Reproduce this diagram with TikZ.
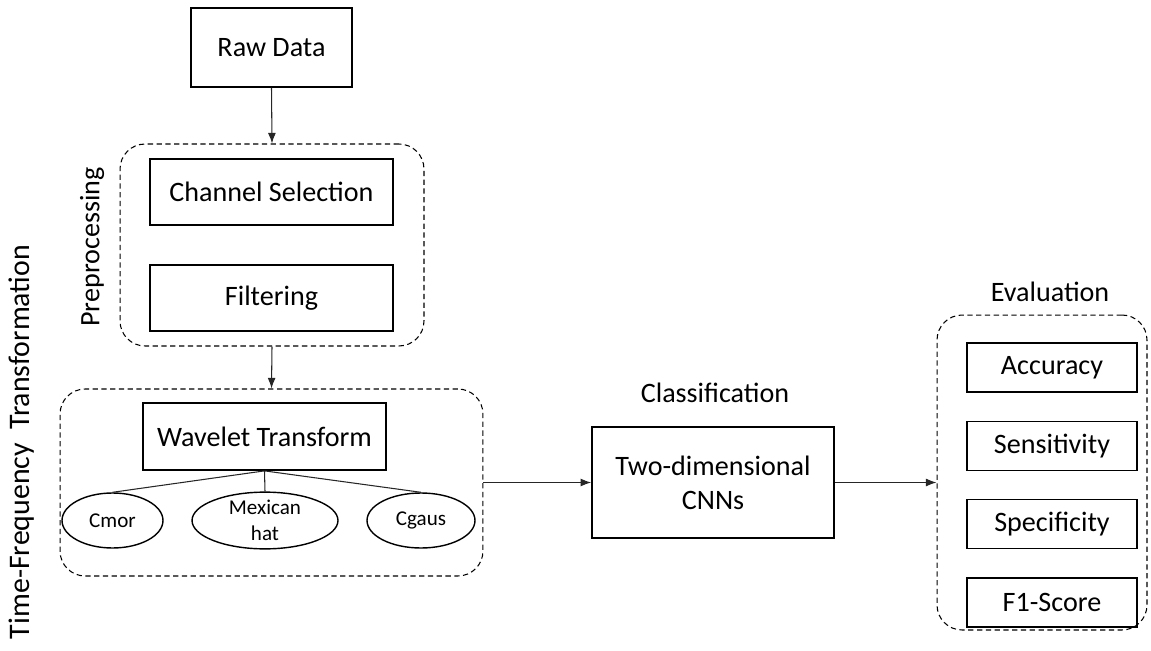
\documentclass[tikz,border=0pt]{standalone}
\usepackage{fontspec}
\setmainfont{Carlito}
\usetikzlibrary{arrows.meta,shapes.geometric}

\begin{document}
\begin{tikzpicture}[x=0.02cm, y=-0.02cm,
  every node/.style = {inner sep=0pt, align=center,
    font=\fontsize{16}{19.5}\selectfont},
  stepbox/.style = {draw, line width=1pt, minimum width=4.86cm, minimum height=1.32cm},
  metricbox/.style = {draw, line width=1pt, minimum width=3.4cm, minimum height=0.98cm},
  groupbox/.style = {draw, dashed, dash pattern=on 3pt off 2pt, line width=0.6pt,
    rounded corners=0.5cm},
  waveletnode/.style = {draw, ellipse, line width=0.8pt, minimum height=1.1cm,
    font=\fontsize{12}{14.5}\selectfont},
  arrow/.style = {-{Latex[length=6pt,width=4.5pt]}, line width=0.6pt, black!85}]
  \useasboundingbox (0,0) rectangle (1151,651);

  % input
  \node[draw, line width=1pt, minimum width=3.22cm, minimum height=1.58cm] (raw) at (271.5,47.5) {Raw Data};

  % preprocessing
  \node[groupbox, minimum width=6.08cm, minimum height=4.04cm] (pre) at (272,245) {};
  \node[stepbox] (chan) at (271.5,192) {Channel Selection};
  \node[stepbox] (filt) at (271.5,298) {Filtering};
  \node[rotate=90] (prelabel) at (92,247) {Preprocessing};

  % time-frequency transformation
  \node[groupbox, minimum width=8.46cm, minimum height=3.74cm] (tf) at (271.5,482.5) {};
  \node[stepbox, minimum height=1.34cm] (wt) at (264.5,436.5) {Wavelet Transform};
  \node[waveletnode, minimum width=2.02cm] (cmor) at (112.5,520.5) {Cmor};
  \node[waveletnode, minimum width=2.92cm] (mexh) at (265,520.5) {Mexican\\hat};
  \node[waveletnode, minimum width=2.16cm] (cgau) at (421,520.5) {Cgaus};
  \node[rotate=90, font=\fontsize{17}{20}\selectfont] (tflabel) at (22,442) {Time-Frequency\ \ Transformation};

  % classification
  \node[draw, line width=1pt, minimum width=4.84cm, minimum height=2.22cm] (cnn) at (713,482.5) {Two-dimensional\\CNNs};
  \node (clslabel) at (715,393) {Classification};

  % evaluation
  \node[groupbox, minimum width=4.2cm, minimum height=6.3cm] (eval) at (1042,472.5) {};
  \node (evallabel) at (1050,292) {Evaluation};
  \node[metricbox] (acc) at (1052,367.5) {Accuracy};
  \node[metricbox] (sens) at (1052,446) {Sensitivity};
  \node[metricbox] (spec) at (1052,524) {Specificity};
  \node[metricbox] (fone) at (1052,602.5) {F1-Score};

  % connectors
  \draw[arrow] (raw.south) -- (pre.north);
  \draw[arrow] (pre.south) -- (tf.north);
  \draw[arrow] (tf.east) -- (cnn.west);
  \draw[arrow] (cnn.east) -- (cnn.east -| eval.west);
  \draw[line width=0.6pt, black!85] (wt.south) -- (cmor.north);
  \draw[line width=0.6pt, black!85] (wt.south) -- (mexh.north);
  \draw[line width=0.6pt, black!85] (wt.south) -- (cgau.north);
\end{tikzpicture}
\end{document}
